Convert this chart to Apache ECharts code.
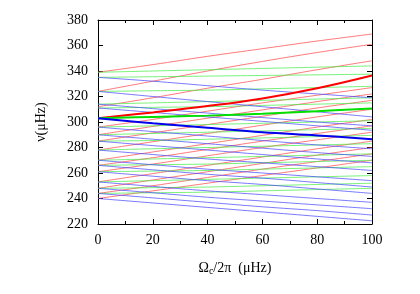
<!DOCTYPE html>
<html><head><meta charset="utf-8">
<script src="https://cdn.jsdelivr.net/npm/echarts@6/dist/echarts.min.js"></script>
<style>html,body{margin:0;padding:0;background:#fff}#c{width:420px;height:294px}</style>
</head><body><div id="c"></div>
<script>
var xs = [0, 20, 40, 60, 80, 100];
var xTicks = [0, 20, 40, 60, 80, 100];
var yTicks = [220, 240, 260, 280, 300, 320, 340, 360, 380];

var redLines = [
  [339, 345, 351.5, 357.5, 363.5, 369],
  [324, 332, 340, 347.5, 354.5, 361],
  [312, 319, 326.5, 333.5, 341, 348],
  [296, 302, 308.5, 315, 321, 327],
  [290, 296.5, 303, 309.5, 316, 322],
  [285, 291.5, 298, 304.5, 311, 317],
  [278, 284.5, 291, 297.5, 304, 310],
  [270, 276.5, 283, 289.5, 296, 302],
  [266, 272, 278.5, 285, 291, 297],
  [261, 267, 273.5, 280, 286, 292],
  [253, 259.5, 266, 272.5, 279, 285],
  [248, 254.5, 261, 267.5, 274, 280],
  [244, 250, 256.5, 263, 269, 275],
  [240, 246, 252, 258, 264, 270]
];
var greenLines = [
  [339, 340, 341, 342, 343, 344],
  [335, 335.5, 336, 336.5, 337, 337.5],
  [324, 324.5, 325, 326, 327, 328],
  [314, 315, 316, 317, 318, 319],
  [311, 311.5, 312, 313, 314, 315],
  [296, 297, 298, 299, 300, 301],
  [290, 291, 292, 293, 294, 295],
  [285, 285.5, 286.5, 287.5, 288.5, 289.5],
  [278, 279, 280, 281, 282, 283],
  [270, 271, 272, 273, 274, 275],
  [266, 266.5, 267, 268, 269, 270],
  [261, 261.5, 262, 263, 264, 265],
  [253, 254, 255, 256, 257, 258],
  [248, 248.5, 249, 250, 251, 252],
  [244, 244.5, 245, 246, 247, 248]
];
var blueLines = [
  [335, 332, 328.5, 325, 322, 319],
  [324, 320, 316, 312, 308, 304],
  [314, 310.5, 307, 303.5, 300, 297],
  [311, 307.5, 304, 300.5, 297, 293.5],
  [296, 292.5, 289, 285.5, 282, 279],
  [290, 286.5, 283, 279.5, 276, 273],
  [285, 281.5, 278, 274.5, 271, 268],
  [278, 274.5, 271, 268, 265, 262],
  [270, 266.5, 263, 260, 257, 254],
  [266, 262.5, 259, 256, 252.5, 249],
  [261, 257.5, 254, 251, 247.5, 244],
  [253, 249.5, 246, 243, 240, 237],
  [248, 244.5, 241, 238, 235, 232],
  [244, 240.5, 237, 233.5, 230.5, 227],
  [240, 236.5, 233, 229.5, 226, 222.5]
];
var redThick = [303, 307.5, 312.5, 318.5, 326.5, 336.5];
var greenThick = [303, 304, 305, 306.5, 308.5, 310.5];
var blueThick = [303, 299, 295.5, 292, 289.5, 286.5];

function pts(v) { return xs.map(function (x, i) { return [x, v[i]]; }); }
function mk(v, color, w) {
  return { type: 'line', data: pts(v), showSymbol: false, smooth: 0.4, silent: true,
    lineStyle: { color: color, width: w }, z: w > 1.5 ? 5 : 2 };
}
var series = [];
redLines.forEach(function (v) { series.push(mk(v, 'rgba(255,70,70,0.8)', 0.9)); });
greenLines.forEach(function (v) { series.push(mk(v, 'rgba(70,235,70,0.8)', 0.9)); });
blueLines.forEach(function (v) { series.push(mk(v, 'rgba(70,70,255,0.8)', 0.9)); });
series.push(mk(redThick, '#ff0000', 2));
series.push(mk(greenThick, '#00e000', 2));
series.push(mk(blueThick, '#0000ee', 2));

var font = 'Liberation Serif';
var axisLine = { show: true, onZero: false, lineStyle: { color: '#000', width: 1 } };
var chart = echarts.init(document.getElementById('c'));
chart.setOption({
  animation: false,
  grid: { left: 98, right: 48, top: 20, bottom: 70 },
  xAxis: [{
    type: 'value', min: 0, max: 100, interval: 20, position: 'bottom',
    axisLine: axisLine,
    axisTick: { inside: true, length: 5, lineStyle: { color: '#000' } },
    minorTick: { show: true, splitNumber: 2, length: 3, lineStyle: { color: '#000' } },
    splitLine: { show: false },
    axisLabel: { color: '#000', fontFamily: font, fontSize: 14, margin: 9,
      formatter: function (v) { return xTicks.indexOf(v) >= 0 ? String(v) : ''; } },
    name: '{a|Ω}{s|c}{a|/2π  (μHz)}', nameLocation: 'middle', nameGap: 36,
    nameTextStyle: { rich: {
      a: { fontFamily: font, fontSize: 14, color: '#000' },
      s: { fontFamily: font, fontSize: 10, color: '#000', verticalAlign: 'bottom', padding: [6, 0, 0, 0] } } }
  }, {
    type: 'value', min: 0, max: 100, interval: 20, position: 'top',
    axisLine: axisLine,
    axisTick: { inside: true, length: 5, lineStyle: { color: '#000' } },
    minorTick: { show: true, splitNumber: 2, length: 3, lineStyle: { color: '#000' } },
    splitLine: { show: false }, axisLabel: { show: false }
  }],
  yAxis: [{
    type: 'value', min: 220, max: 380, interval: 20, position: 'left',
    axisLine: axisLine,
    axisTick: { inside: true, length: 5, lineStyle: { color: '#000' } },
    splitLine: { show: false },
    axisLabel: { color: '#000', fontFamily: font, fontSize: 14, margin: 10,
      formatter: function (v) { return yTicks.indexOf(v) >= 0 ? String(v) : ''; } },
    name: 'ν(μHz)', nameLocation: 'middle', nameGap: 50, nameRotate: 90,
    nameTextStyle: { fontFamily: font, fontSize: 14, color: '#000' }
  }, {
    type: 'value', min: 220, max: 380, interval: 20, position: 'right',
    axisLine: axisLine,
    axisTick: { inside: true, length: 5, lineStyle: { color: '#000' } },
    splitLine: { show: false }, axisLabel: { show: false }
  }],
  series: series
});
</script></body></html>
